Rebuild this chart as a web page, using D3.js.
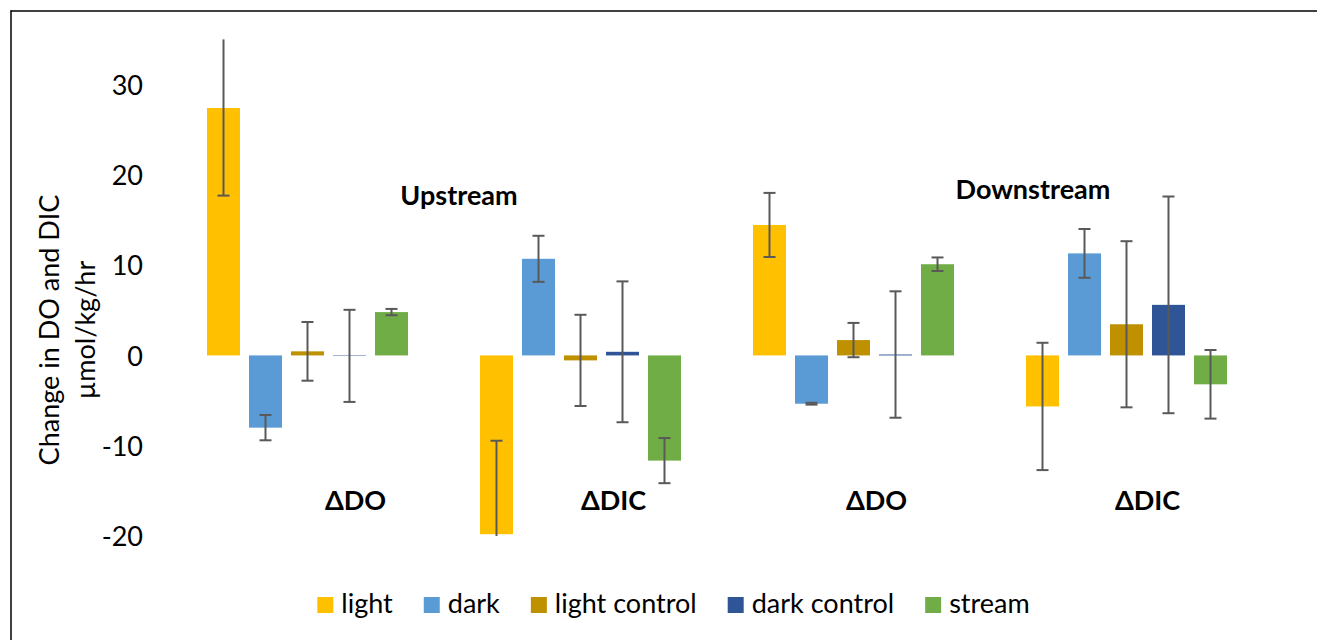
<!DOCTYPE html>
<html>
<head>
<meta charset="utf-8">
<script src="https://cdn.jsdelivr.net/npm/d3@7"></script>
<style>
  html, body { margin: 0; padding: 0; background: #fff; }
  svg { display: block; }
  text { font-family: Lato, "Noto Sans", sans-serif; fill: #000; }
</style>
</head>
<body>
<svg id="chart" width="1317" height="640"></svg>
<script>
// Category groups (site + parameter) and their labels
const categoryIds = ["up-DO", "up-DIC", "down-DO", "down-DIC"];
const categoryLabels = ["ΔDO", "ΔDIC", "ΔDO", "ΔDIC"];
const siteLabels = ["Upstream", "Downstream"];

// Treatments
const seriesNames = ["light", "dark", "light control", "dark control", "stream"];
const seriesColors = ["#FFC000", "#5B9BD5", "#BF9000", "#2F5597", "#70AD47"];

// Mean change (µmol/kg/hr) per treatment, ordered as categoryIds
const lightValues        = [27.4, -19.8, 14.45, -5.65];
const darkValues         = [-8.0, 10.7, -5.35, 11.3];
const lightControlValues = [0.45, -0.55, 1.7, 3.45];
const darkControlValues  = [-0.05, 0.4, 0.1, 5.6];
const streamValues       = [4.8, -11.65, 10.1, -3.2];

// Error bar half-widths
const lightErrors        = [9.7, 10.35, 3.55, 7.05];
const darkErrors         = [1.4, 2.55, 0.1, 2.7];
const lightControlErrors = [3.25, 5.05, 1.9, 9.2];
const darkControlErrors  = [5.1, 7.8, 7.0, 12.0];
const streamErrors       = [0.35, 2.5, 0.75, 3.8];

// Y axis
const yMin = -20, yMax = 35;
const yTicks = [-20, -10, 0, 10, 20, 30];
const yTickLabels = ["-20", "-10", "0", "10", "20", "30"];

const valueTable = [lightValues, darkValues, lightControlValues, darkControlValues, streamValues];
const errorTable = [lightErrors, darkErrors, lightControlErrors, darkControlErrors, streamErrors];

const rows = [];
seriesNames.forEach((s, si) => {
  categoryIds.forEach((c, ci) => {
    rows.push({ series: s, color: seriesColors[si], cat: c, value: valueTable[si][ci], err: errorTable[si][ci] });
  });
});

const svg = d3.select("#chart");
const plot = { left: 171, right: 1263, top: 39.4, bottom: 536 };

// Frame around the chart area (left and top edges show)
svg.append("line").attr("x1", 11).attr("x2", 11).attr("y1", 10.5).attr("y2", 640)
  .attr("stroke", "#000").attr("stroke-width", 1.5);
svg.append("line").attr("x1", 10.5).attr("x2", 1317).attr("y1", 11).attr("y2", 11)
  .attr("stroke", "#000").attr("stroke-width", 1.3);

const y = d3.scaleLinear().domain([yMin, yMax]).range([plot.bottom, plot.top]);
const x0 = d3.scaleBand().domain(categoryIds).range([plot.left, plot.right]).padding(0);
const groupWidth = x0.bandwidth() * 201 / 273;
const groupOffset = (x0.bandwidth() - groupWidth) / 2;
const x1 = d3.scaleBand().domain(seriesNames).range([0, groupWidth]).paddingInner(9 / 42).paddingOuter(0);

// Y axis labels only (no axis line, no tick marks)
const yAxis = d3.axisLeft(y).tickValues(yTicks).tickSize(0).tickPadding(0)
  .tickFormat((d, i) => yTickLabels[i]);
const yAxisG = svg.append("g").attr("transform", "translate(143,0)").call(yAxis);
yAxisG.select(".domain").remove();
yAxisG.selectAll("text").attr("font-family", "Lato, sans-serif").attr("font-size", 27).attr("fill", "#1a1a1a")
  .attr("dy", "0.36em");

// Axis title
const title = svg.append("text")
  .attr("transform", "translate(0,330) rotate(-90)")
  .attr("text-anchor", "middle")
  .attr("font-size", 27);
title.append("tspan").attr("x", 0).attr("y", 59).text("Change in DO and DIC");
title.append("tspan").attr("x", 0).attr("y", 95).text("µmol/kg/hr");

// Bars
const bars = svg.append("g");
bars.selectAll("rect").data(rows).join("rect")
  .attr("x", d => x0(d.cat) + groupOffset + x1(d.series))
  .attr("width", x1.bandwidth())
  .attr("y", d => y(Math.max(0, d.value)))
  .attr("height", d => Math.abs(y(d.value) - y(0)))
  .attr("fill", d => d.color);

// Error bars, clipped to the axis range (no cap where clipped)
const capHalf = 6;
const eb = svg.append("g").attr("stroke", "#595959").attr("stroke-width", 2).attr("fill", "none");
rows.forEach(d => {
  const cx = x0(d.cat) + groupOffset + x1(d.series) + x1.bandwidth() / 2;
  const hi = d.value + d.err, lo = d.value - d.err;
  const hiC = Math.min(hi, yMax), loC = Math.max(lo, yMin);
  eb.append("line").attr("x1", cx).attr("x2", cx).attr("y1", y(hiC)).attr("y2", y(loC));
  if (hi <= yMax) eb.append("line").attr("x1", cx - capHalf).attr("x2", cx + capHalf).attr("y1", y(hi)).attr("y2", y(hi));
  if (lo >= yMin) eb.append("line").attr("x1", cx - capHalf).attr("x2", cx + capHalf).attr("y1", y(lo)).attr("y2", y(lo));
});

// Parameter labels inside the plot
const catLabelShift = [48, 33, 23, 21];
svg.append("g").selectAll("text").data(categoryIds).join("text")
  .attr("x", (c, i) => x0(c) + x0.bandwidth() / 2 + catLabelShift[i])
  .attr("y", y(-16))
  .attr("dy", "0.36em")
  .attr("text-anchor", "middle")
  .attr("font-weight", "bold")
  .attr("font-size", 27)
  .text((c, i) => categoryLabels[i]);

// Site labels
const siteAnchor = [
  { x: x0("up-DIC") + 15, v: 17.7 },
  { x: x0("down-DIC") + 43, v: 18.4 }
];
svg.append("g").selectAll("text").data(siteLabels).join("text")
  .attr("x", (s, i) => siteAnchor[i].x)
  .attr("y", (s, i) => y(siteAnchor[i].v))
  .attr("dy", "0.36em")
  .attr("text-anchor", "middle")
  .attr("font-weight", "bold")
  .attr("font-size", 27)
  .text(s => s);

// Legend
const legend = svg.append("g");
const sw = 16, swGap = 8, itemGap = 31;
let lx = 0;
seriesNames.forEach((s, i) => {
  const g = legend.append("g").attr("transform", `translate(${lx},0)`);
  g.append("rect").attr("x", 0).attr("y", 597).attr("width", sw).attr("height", sw).attr("fill", seriesColors[i]);
  const t = g.append("text").attr("x", sw + swGap).attr("y", 613).attr("font-size", 27).attr("fill", "#1a1a1a").text(s);
  lx += sw + swGap + t.node().getComputedTextLength() + itemGap;
});
const legendWidth = lx - itemGap;
legend.attr("transform", `translate(${673.5 - legendWidth / 2},0)`);
</script>
</body>
</html>
